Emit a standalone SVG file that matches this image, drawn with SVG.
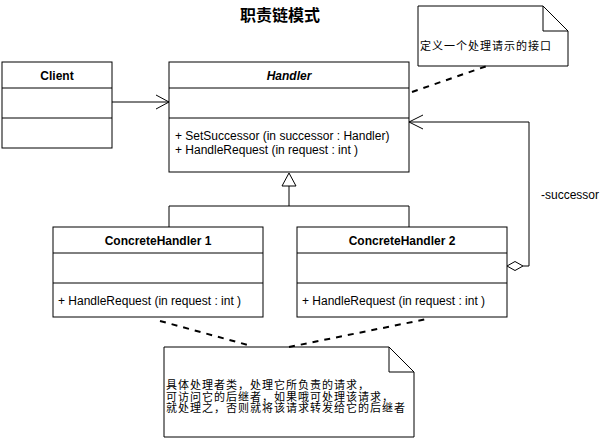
<svg xmlns="http://www.w3.org/2000/svg" width="612" height="440" viewBox="0 0 612 440">
<style>
.box{fill:#fff;stroke:#000;stroke-width:1}
.ln{fill:none;stroke:#000;stroke-width:1}
.dash{fill:none;stroke:#000;stroke-width:2;stroke-dasharray:6 6}
.t{font-family:"Liberation Sans",Arial,sans-serif;font-size:12px;fill:#000}
.b{font-weight:bold}
.c{text-anchor:middle}
.cjk{font-family:"Liberation Sans","Noto Sans CJK SC",sans-serif;font-size:11px;letter-spacing:1px;fill:#000}
</style>
<rect width="612" height="440" fill="#fff"/>
<text id="title" x="280" y="21" class="cjk b c" style="font-size:16px;letter-spacing:0">职责链模式</text>

<g id="client">
<rect class="box" x="2" y="62" width="110" height="86"/>
<line class="ln" x1="2" y1="88" x2="112" y2="88"/>
<line class="ln" x1="2" y1="118" x2="112" y2="118"/>
<text class="t b c" x="57" y="80">Client</text>
</g>

<g id="handler">
<rect class="box" x="169" y="62" width="240" height="110"/>
<line class="ln" x1="169" y1="88" x2="409" y2="88"/>
<line class="ln" x1="169" y1="118" x2="409" y2="118"/>
<text class="t b c" x="289" y="80" font-style="italic">Handler</text>
<text class="t" x="175" y="140">+ SetSuccessor (in successor : Handler)</text>
<text class="t" x="175" y="154">+ HandleRequest (in request : int )</text>
</g>

<g id="concrete1">
<rect class="box" x="53" y="227" width="210" height="90"/>
<line class="ln" x1="53" y1="253" x2="263" y2="253"/>
<line class="ln" x1="53" y1="283" x2="263" y2="283"/>
<text class="t b c" x="158" y="245">ConcreteHandler 1</text>
<text class="t" x="58" y="305">+ HandleRequest (in request : int )</text>
</g>

<g id="concrete2">
<rect class="box" x="297" y="227" width="210" height="90"/>
<line class="ln" x1="297" y1="253" x2="507" y2="253"/>
<line class="ln" x1="297" y1="283" x2="507" y2="283"/>
<text class="t b c" x="402" y="245">ConcreteHandler 2</text>
<text class="t" x="302" y="305">+ HandleRequest (in request : int )</text>
</g>

<g id="note1">
<path class="box" d="M418,6 H543 L568,31 V66 H418 Z"/>
<path class="ln" d="M543,6 V31 H568"/>
<text class="cjk" x="420" y="50">定义一个处理请示的接口</text>
</g>

<g id="note2">
<path class="box" d="M164,347 H389 L414,372 V437 H164 Z"/>
<path class="ln" d="M389,347 V372 H414"/>
<text class="cjk" x="166" y="389">具体处理者类，处理它所负责的请求，</text>
<text class="cjk" x="166" y="400.5">可访问它的后继者，如果哦可处理该请求，</text>
<text class="cjk" x="166" y="412">就处理之，否则就将该请求转发给它的后继者</text>
</g>

<g id="connectors">
<line class="ln" x1="112" y1="102" x2="169" y2="102"/>
<path class="ln" d="M156,95 L169,102 L156,109"/>

<path class="ln" d="M289,186 V206 M169,227 V206 H409 V227"/>
<path class="box" d="M289,173 L296,186 H282 Z"/>

<path class="ln" d="M523,266 H529 V122 H409"/>
<path class="ln" d="M423,115 L409,122 L423,129"/>
<path class="box" d="M507,266 L515,261.5 L523,266 L515,270.5 Z"/>
<text class="t" x="541" y="199">-successor</text>

<line class="dash" x1="412" y1="92" x2="487" y2="66"/>
<line class="dash" x1="160" y1="321" x2="248" y2="345"/>
<line class="dash" x1="289" y1="347" x2="427" y2="319"/>
</g>
</svg>
